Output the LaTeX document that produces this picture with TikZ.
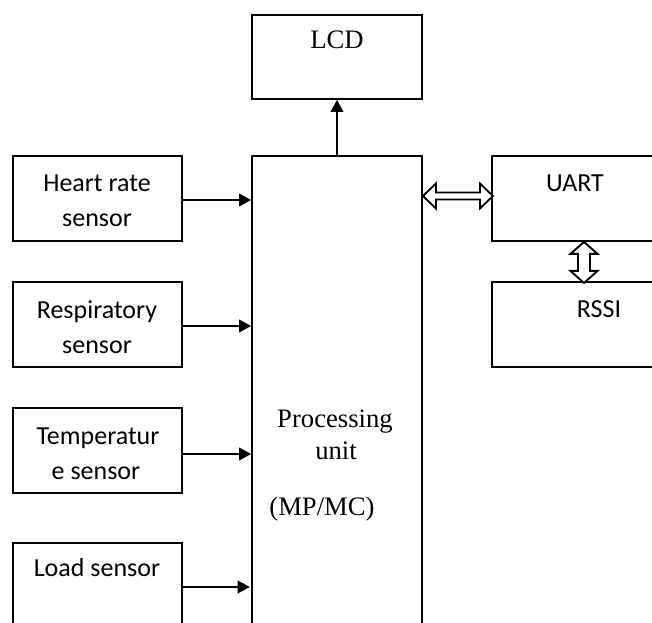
\documentclass[tikz,border=0pt]{standalone}
\usepackage{fontspec}
\setmainfont{Liberation Serif}
\newfontfamily\calib{Carlito}
\usetikzlibrary{arrows.meta,fit}
\begin{document}
\begin{tikzpicture}[x=0.75pt,y=-0.75pt,
  box/.style={draw,line width=1.4pt,inner sep=0pt,rectangle},
  sans/.style={font=\calib\fontsize{19.5}{26}\selectfont,anchor=base,inner sep=0pt},
  serif/.style={font=\fontsize{20}{26}\selectfont,anchor=base,inner sep=0pt},
  arr/.style={line width=1.3pt,-{Triangle[length=9pt,width=9.5pt]}},
  dbl/.style={line width=1.4pt,line join=miter,fill=white}]
\useasboundingbox (0,0) rectangle (652,623);
\clip (0,0) rectangle (652,623);
% boxes
\node[box,fit={(252,15) (422,99)}] (lcd) {};
\node[box,fit={(252,156) (422,660)}] (proc) {};
\node[box,fit={(13,156) (182,241)}] (hr) {};
\node[box,fit={(13,282) (182,367)}] (resp) {};
\node[box,fit={(13,408) (182,493)}] (temp) {};
\node[box,fit={(13,543) (182,660)}] (load) {};
\node[box,fit={(492,156) (680,241)}] (uart) {};
\node[box,fit={(492,282) (680,367)}] (rssi) {};
% texts
\node[serif] (tlcd) at (337,49) {LCD};
\node[serif] (tp1) at (335,427) {Processing};
\node[serif] (tp2) at (336,459) {unit};
\node[serif] (tp3) at (322,515) {(MP/MC)};
\node[sans] (thr1) at (97,192) {Heart rate};
\node[sans] (thr2) at (97,227) {sensor};
\node[sans] (tre1) at (97,318) {Respiratory};
\node[sans] (tre2) at (97,353) {sensor};
\node[sans] (tte1) at (98,444) {Temperatur};
\node[sans] (tte2) at (96,479) {e sensor};
\node[sans] (tlo) at (97,576) {Load sensor};
\node[sans] (tua) at (575,192) {UART};
\node[sans] (trs) at (599,317) {RSSI};
% arrows
\draw[arr] (proc.north) -- (lcd.south);
\draw[arr] (hr.east |- 0,200) -- (proc.west |- 0,200);
\draw[arr] (resp.east |- 0,326) -- (proc.west |- 0,326);
\draw[arr] (temp.east |- 0,454) -- (proc.west |- 0,454);
\draw[arr] ([xshift=-1.5pt]load.east |- 0,587) -- ([xshift=-1pt]proc.west |- 0,587);
% hollow double arrows
\draw[dbl] (proc.east |- 0,196) -- ++(13,-12.5) -- ++(0,9) -- ++(44,0) -- ++(0,-9)
  -- ++(13,12.5) -- ++(-13,12.5) -- ++(0,-9) -- ++(-44,0) -- ++(0,9) -- cycle;
\draw[dbl] (uart.south -| 584,0) -- ++(13.5,12) -- ++(-7.5,0) -- ++(0,17) -- ++(7.5,0)
  -- ++(-13.5,12) -- ++(-13.5,-12) -- ++(7.5,0) -- ++(0,-17) -- ++(-7.5,0) -- cycle;
\end{tikzpicture}
\end{document}
